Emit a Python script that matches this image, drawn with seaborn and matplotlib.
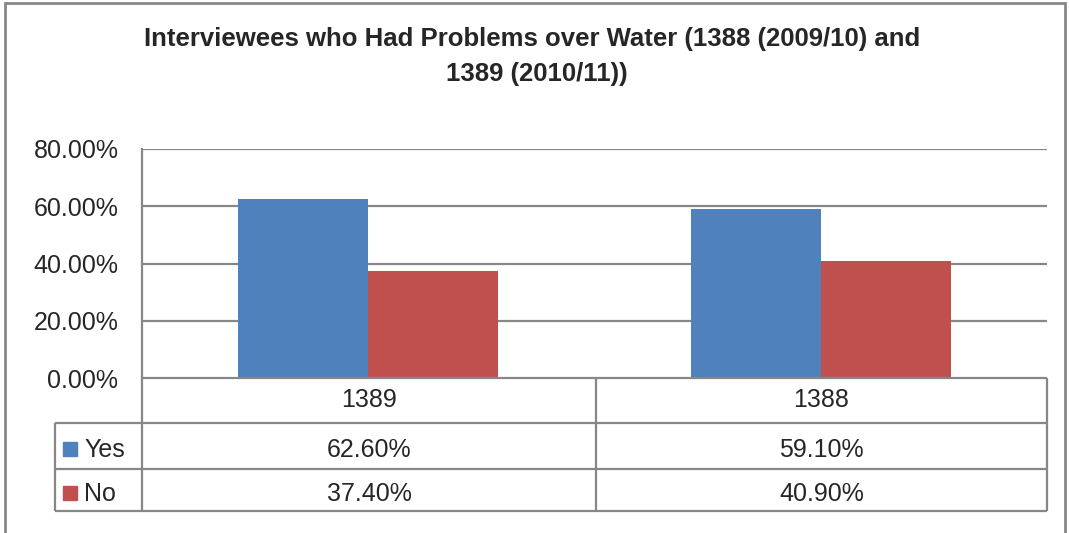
import numpy as np
import pandas as pd
import seaborn as sns
from matplotlib import pyplot as plt
from matplotlib.lines import Line2D
from matplotlib.patches import Rectangle

# chart data
years = ["1389", "1388"]
yes_share = [62.6, 59.1]
no_share = [37.4, 40.9]
series = ["Yes", "No"]
colors = ["#4F81BD", "#C0504D"]
title_lines = ["Interviewees who Had Problems over Water (1388 (2009/10) and", "1389 (2010/11))"]

W, H = 1069, 533
GRID = "#878787"
FS = 18


def fx(x):
    return x / W


def fy(y):
    return 1 - y / H


def hline(fig, y, x0, x1, lw=1.6):
    fig.add_artist(Line2D([fx(x0), fx(x1)], [fy(y), fy(y)], color=GRID, lw=lw,
                          transform=fig.transFigure, solid_capstyle="butt"))


def vline(fig, x, y0, y1, lw=1.6):
    fig.add_artist(Line2D([fx(x), fx(x)], [fy(y0), fy(y1)], color=GRID, lw=lw,
                          transform=fig.transFigure, solid_capstyle="butt"))


def main():
    sns.set_theme(style="white")
    plt.rcParams["font.family"] = ["Liberation Sans", "DejaVu Sans"]

    df = pd.DataFrame({
        "year": years * 2,
        "answer": ["Yes"] * len(years) + ["No"] * len(years),
        "share": yes_share + no_share,
    })

    fig = plt.figure(figsize=(W / 100, H / 100), dpi=100)
    fig.patch.set_facecolor("white")

    # plot area
    left, right, top, bottom = 142, 1047, 149, 378
    ax = fig.add_axes([fx(left), fy(bottom), fx(right - left), (bottom - top) / H])
    sns.barplot(data=df, x="year", y="share", hue="answer", order=years, hue_order=series,
                palette=colors, saturation=1, width=0.575, gap=0, linewidth=0,
                legend=False, ax=ax)
    ax.set_xlim(-0.5, len(years) - 0.5)
    ax.set_ylim(0, 80)
    ax.set_yticks(np.arange(0, 81, 20))
    ax.set_yticklabels([f"{v:.2f}%" for v in np.arange(0, 81, 20)], fontsize=FS)
    ax.tick_params(axis="y", length=0, pad=17)
    ax.set_xticks([])
    ax.set_xlabel("")
    ax.set_ylabel("")
    for v in np.arange(20, 81, 20):
        ax.axhline(v, color=GRID, lw=1.6, zorder=0)
    for side in ["top", "right", "bottom"]:
        ax.spines[side].set_visible(False)
    ax.spines["left"].set_color(GRID)
    ax.spines["left"].set_linewidth(1.6)

    # data table under the plot
    col_x = [142, 596, 1047]
    row_y = [378, 423, 469, 511]
    baselines = [407, 457, 501]
    legend_x = 55
    hline(fig, row_y[0], col_x[0], col_x[-1])
    for y in row_y[1:]:
        hline(fig, y, legend_x, col_x[-1])
    for x in col_x:
        vline(fig, x, row_y[0], row_y[-1])
    vline(fig, legend_x, row_y[1], row_y[-1])

    for i, yr in enumerate(years):
        cx = (col_x[i] + col_x[i + 1]) / 2
        fig.text(fx(cx), fy(baselines[0]), yr, ha="center", va="baseline", fontsize=FS)
        for j, vals in enumerate([yes_share, no_share]):
            fig.text(fx(cx), fy(baselines[j + 1]), f"{vals[i]:.2f}%", ha="center",
                     va="baseline", fontsize=FS)

    for j, name in enumerate(series):
        base = baselines[j + 1]
        fig.add_artist(Rectangle((fx(63), fy(base - 1)), 14 / W, 14 / H, color=colors[j],
                                 transform=fig.transFigure))
        fig.text(fx(84), fy(base), name, ha="left", va="baseline", fontsize=FS)

    # title and outer frame
    fig.text(fx(532), fy(46), title_lines[0], ha="center", va="baseline",
             fontsize=18.5, fontweight="bold")
    fig.text(fx(537), fy(81), title_lines[1], ha="center", va="baseline",
             fontsize=18.5, fontweight="bold")
    fig.add_artist(Rectangle((fx(5), fy(540)), 1060 / W, 537 / H, fill=False, edgecolor=GRID,
                             lw=2, transform=fig.transFigure))

    fig.savefig("out.png", dpi=100)
    plt.close(fig)


if __name__ == "__main__":
    main()
